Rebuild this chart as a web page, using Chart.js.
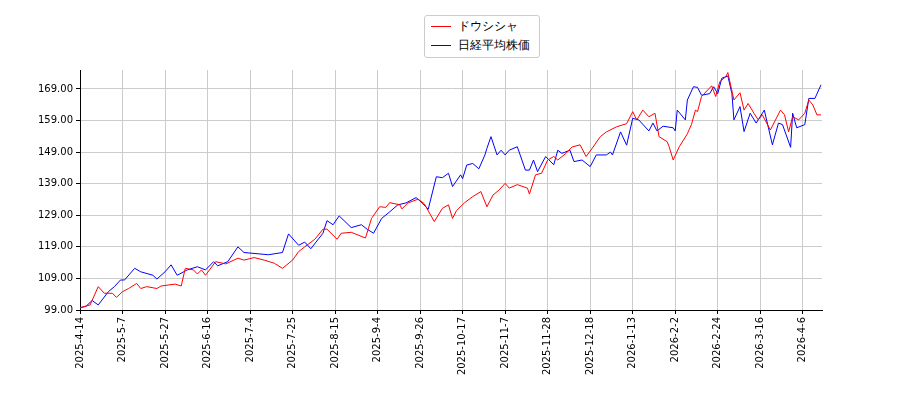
<!DOCTYPE html>
<html><head><meta charset="utf-8">
<script src="https://cdn.jsdelivr.net/npm/chart.js@4"></script>
<style>
body{margin:0;background:#fff;font-family:"DejaVu Sans",sans-serif}
#wrap{position:relative;width:900px;height:400px}
#leg{position:absolute;left:424px;top:15px;width:114px;height:40px;border:1px solid #ccc;border-radius:3px;background:#fff;font-size:12px;line-height:19px;padding-top:1px}
#leg div{display:flex;align-items:center;padding-left:6px}
#leg span.l{display:inline-block;width:20px;height:0;border-top:1.5px solid;margin-right:7px}
</style></head><body>
<div id="wrap"><canvas id="c" width="900" height="400"></canvas>
<div id="leg"><div><span class="l" style="border-color:#f00"></span>ドウシシャ</div><div><span class="l" style="border-color:#00f"></span>日経平均株価</div></div></div>
<script>
const tickLabels=["2025-4-14","2025-5-7","2025-5-27","2025-6-16","2025-7-4","2025-7-25","2025-8-15","2025-9-4","2025-9-26","2025-10-17","2025-11-7","2025-11-28","2025-12-18","2026-1-13","2026-2-2","2026-2-24","2026-3-16","2026-4-6"];
const redPos=[0,5,9,12,16,18,21,24,28,30,33,38,40,47,50,52,56,58,60,62,67,72,78,81,86,91,96,100,105,108,111,116,120,122,127,129,134,141,144,148,151,153,158,159,162,167,170,175,179,182,184,186,190,194,198,201,204,207,210,212,216,221,222,225,228,231,234,236,240,243,247,250,253,257,260,265,270,273,275,278,281,284,286,290,291,293,296,300,302,304,305,307,312,314,316,319,320,323,326,328,330,333,335,337,341,346,348,350,352,355,358,360,362,364,366];
const redVals=[99.7,100.6,106.4,104.3,104.3,103,104.8,105.8,107.4,105.8,106.4,105.8,106.6,107.2,106.6,112.2,111.7,110.4,111.7,110.0,114.3,113.6,115.4,114.8,115.6,114.8,113.8,112.2,114.8,117.5,119.0,121.4,124.6,124.6,121.4,123.3,123.6,121.8,128.0,131.7,131.5,133.0,132.3,131,132.9,134.1,132.7,127.0,131.2,132.3,128.0,130.5,133.0,134.9,136.5,131.7,135.4,137.0,139.1,137.6,138.7,137.6,135.7,141.8,142.3,146.5,147.6,146.5,148.6,150.6,151.3,147.6,150.2,153.9,155.4,157.0,158.0,161.8,159.2,162.3,160.2,161.3,153.9,152.3,150.7,146.5,150.7,154.8,157.7,162.3,161.8,166.6,170.0,166.6,171.3,172.9,174.2,165.5,167.8,162.3,164.4,161.2,159.2,160.8,156.0,162.3,160.8,155.4,160.2,159.2,161.3,165.5,163.9,160.8,160.8];
const bluePos=[0,3,6,9,14,17,20,22,27,30,36,38,42,45,48,53,58,62,66,68,73,78,81,88,93,100,103,108,111,114,120,122,125,128,134,139,142,145,149,153,157,161,166,169,172,176,179,182,184,188,189,191,194,197,200,201,203,206,208,210,212,216,220,222,224,226,230,234,236,238,242,244,248,252,255,260,262,263,267,270,273,276,281,283,285,288,293,294,295,299,300,303,305,307,311,313,315,317,320,322,323,326,328,331,334,338,342,345,347,351,352,354,358,360,363,366];
const blueVals=[99.7,100.2,102,100.6,104.8,106.4,108.5,108.5,112.2,111.1,110,108.8,111.1,113.3,110,111.7,112.7,111.7,114.3,113,114.3,119.0,117.2,116.8,116.5,117.2,123.1,119.5,120.5,118.4,123.3,127.3,126.0,128.8,125.1,126.0,124.5,123.3,128.0,130.1,132.3,132.9,134.6,132.9,130.9,141.2,140.9,142.3,138.1,141.8,140.6,144.9,145.4,143.7,148.1,150.2,153.9,148.1,149.6,148.1,149.6,150.7,143.3,143.3,146.5,142.8,147.6,145.0,149.6,148.6,149.6,146.0,146.5,144.4,148.1,148.1,149,148.1,155.4,151.2,159.7,159.2,155.7,158.2,155.7,157.2,156.7,155.7,162.3,159.2,165.5,169.7,169.5,167.0,167.5,169.7,167.5,172.4,173.1,167.5,159.2,163.4,155.5,161.3,158.2,162.3,151.3,158.2,157.7,150.5,161.3,156.7,157.7,166.0,166.0,170.3];
const yTicks=[99,109,119,129,139,149,159,169];
const pts=(p,v)=>p.map((x,i)=>({x:x,y:v[i]}));
new Chart(document.getElementById('c'),{type:'line',
data:{datasets:[
{data:pts(redPos,redVals),borderColor:'#f00',borderWidth:1,pointRadius:0,tension:0},
{data:pts(bluePos,blueVals),borderColor:'#00f',borderWidth:1,pointRadius:0,tension:0}]},
options:{responsive:false,animation:false,events:[],
layout:{padding:{left:0,top:70,right:78,bottom:0}},
plugins:{legend:{display:false},tooltip:{enabled:false}},
scales:{
x:{type:'linear',min:0,max:366.5,afterFit:s=>{s.height=90;},
 afterBuildTicks:s=>{s.ticks=tickLabels.map((_,i)=>({value:i*21}));},
 ticks:{maxRotation:90,minRotation:90,color:'#000',font:{family:'DejaVu Sans',size:10},callback:(v)=>tickLabels[Math.round(v/21)]},
 grid:{color:'#ccc',tickColor:'#000',tickLength:4},border:{color:'#000'}},
y:{min:99,max:175,afterFit:s=>{s.width=80;},
 afterBuildTicks:s=>{s.ticks=yTicks.map(v=>({value:v}));},
 ticks:{color:'#000',font:{family:'DejaVu Sans',size:10},callback:v=>v.toFixed(2)},
 grid:{color:'#ccc',tickColor:'#000',tickLength:4},border:{color:'#000'}}}}});
</script></body></html>
